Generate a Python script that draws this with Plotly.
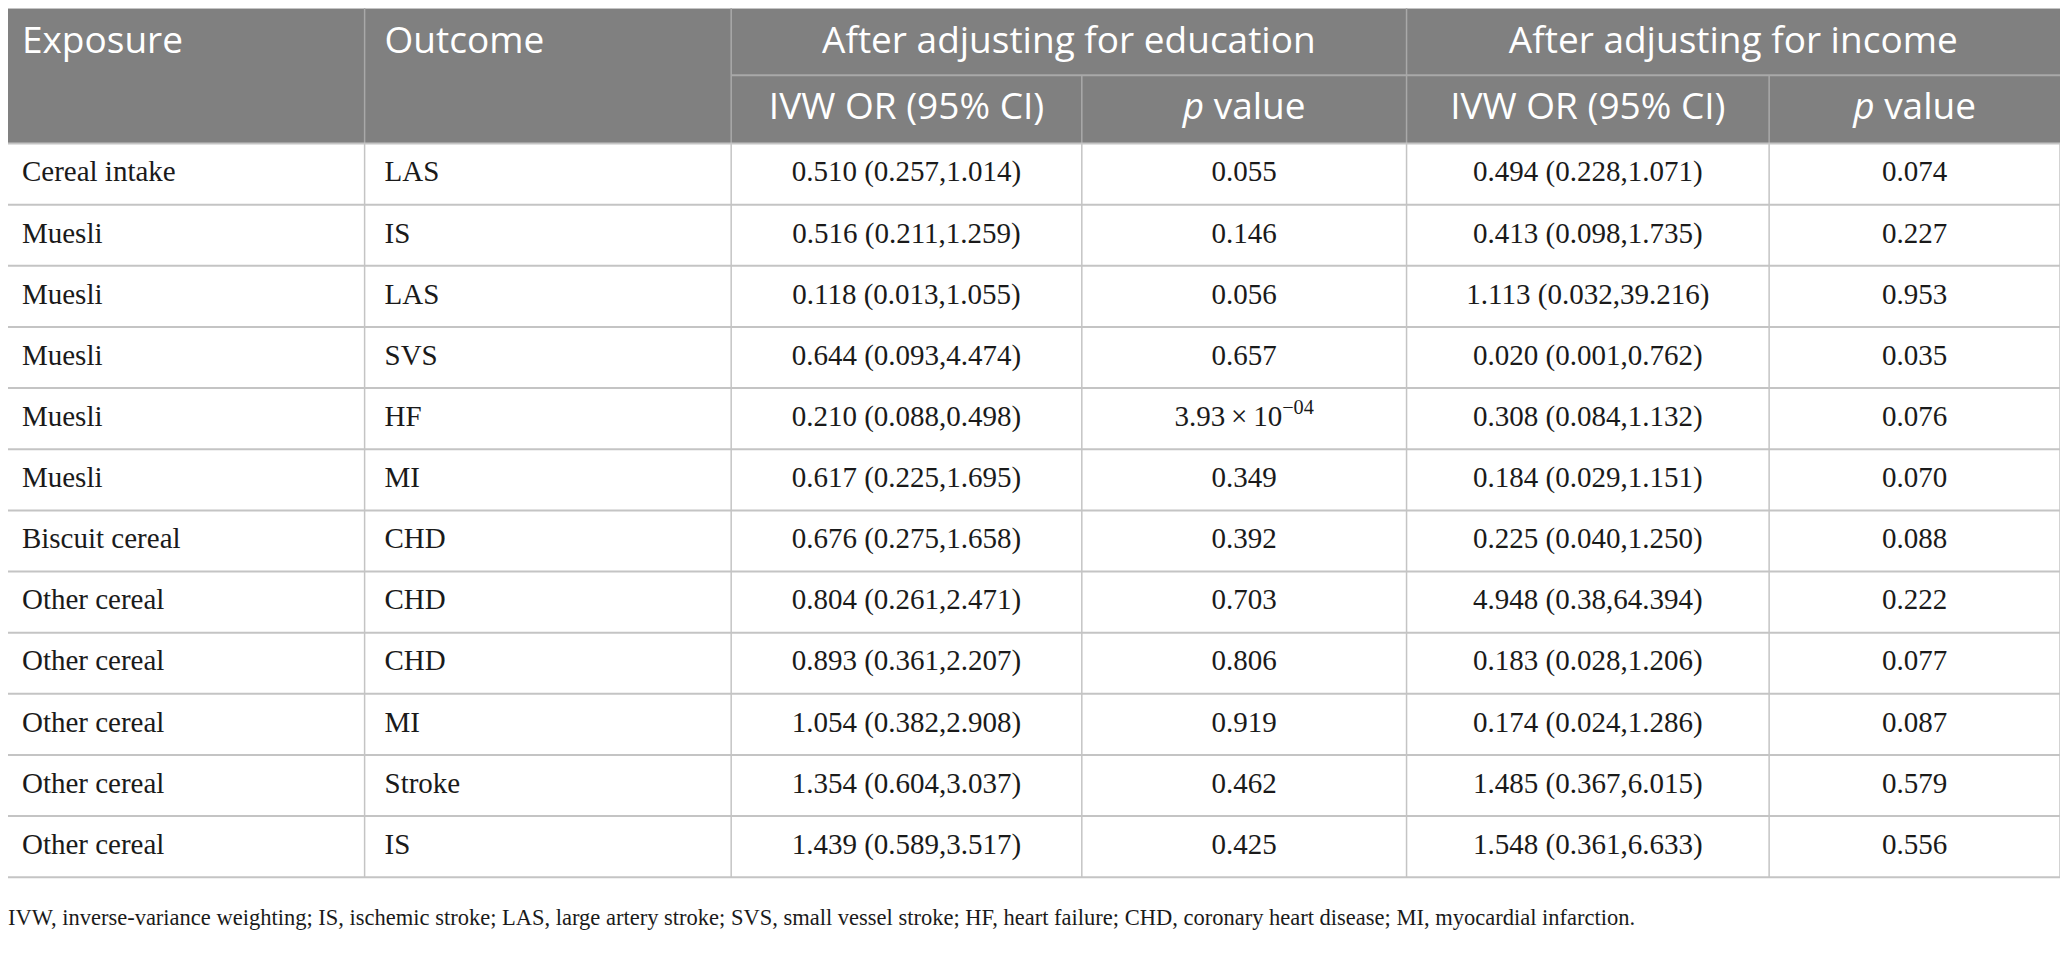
import plotly.graph_objects as go

# table content
exposure = ["Cereal intake", "Muesli", "Muesli", "Muesli", "Muesli", "Muesli",
            "Biscuit cereal", "Other cereal", "Other cereal", "Other cereal",
            "Other cereal", "Other cereal"]
outcome = ["LAS", "IS", "LAS", "SVS", "HF", "MI", "CHD", "CHD", "CHD", "MI",
           "Stroke", "IS"]
edu_or = ["0.510 (0.257,1.014)", "0.516 (0.211,1.259)", "0.118 (0.013,1.055)",
          "0.644 (0.093,4.474)", "0.210 (0.088,0.498)", "0.617 (0.225,1.695)",
          "0.676 (0.275,1.658)", "0.804 (0.261,2.471)", "0.893 (0.361,2.207)",
          "1.054 (0.382,2.908)", "1.354 (0.604,3.037)", "1.439 (0.589,3.517)"]
edu_p = ["0.055", "0.146", "0.056", "0.657",
         "3.93\u2009\u00d7\u200910<sup>\u221204</sup>", "0.349",
         "0.392", "0.703", "0.806", "0.919", "0.462", "0.425"]
inc_or = ["0.494 (0.228,1.071)", "0.413 (0.098,1.735)", "1.113 (0.032,39.216)",
          "0.020 (0.001,0.762)", "0.308 (0.084,1.132)", "0.184 (0.029,1.151)",
          "0.225 (0.040,1.250)", "4.948 (0.38,64.394)", "0.183 (0.028,1.206)",
          "0.174 (0.024,1.286)", "1.485 (0.367,6.015)", "1.548 (0.361,6.633)"]
inc_p = ["0.074", "0.227", "0.953", "0.035", "0.076", "0.070", "0.088",
         "0.222", "0.077", "0.087", "0.579", "0.556"]

group_headers = ["After adjusting for education", "After adjusting for income"]
sub_headers = ["IVW OR (95% CI)", "<i>p</i> value", "IVW OR (95% CI)", "<i>p</i> value"]
footnote = ("IVW, inverse-variance weighting; IS, ischemic stroke; LAS, large artery stroke; "
            "SVS, small vessel stroke; HF, heart failure; CHD, coronary heart disease; "
            "MI, myocardial infarction.")

# layout geometry (pixels of the reference image)
col_edges = [0, 364, 732, 1084, 1410, 1774, 2066]
top, mid, head_bot = 5, 72.5, 141
row_h = (877 - 141) / 12
n = len(exposure)
body_bot = head_bot + n * row_h
pad = 20

head_fill = "#808080"
grid = "#c4c4c4"
head_grid = "#a9a9a9"
serif = "Liberation Serif"
sans = "Open Sans"

fig = go.Figure()

shapes = [dict(type="rect", x0=col_edges[0], x1=col_edges[-1], y0=top, y1=head_bot,
               fillcolor=head_fill, line_width=0, layer="below")]
# header lines
shapes.append(dict(type="line", x0=0, x1=col_edges[-1], y0=top, y1=top,
                   line=dict(color=grid, width=2)))
shapes.append(dict(type="line", x0=col_edges[2], x1=col_edges[-1], y0=mid, y1=mid,
                   line=dict(color=head_grid, width=2)))
for i in (1, 2, 4):
    shapes.append(dict(type="line", x0=col_edges[i], x1=col_edges[i], y0=top, y1=head_bot,
                       line=dict(color=head_grid, width=1.5)))
for i in (3, 5):
    shapes.append(dict(type="line", x0=col_edges[i], x1=col_edges[i], y0=mid, y1=head_bot,
                       line=dict(color=head_grid, width=1.5)))
# body lines
for r in range(n + 1):
    y = head_bot + r * row_h
    shapes.append(dict(type="line", x0=0, x1=col_edges[-1], y0=y, y1=y,
                       line=dict(color=grid, width=2)))
for x in col_edges:
    shapes.append(dict(type="line", x0=x, x1=x, y0=head_bot, y1=body_bot,
                       line=dict(color=grid, width=1.5)))

row_y = [head_bot + row_h * (i + 0.5) for i in range(n)]
body_font = dict(family=serif, size=29, color="#1a1a1a")
head_font = dict(family=sans, size=37, color="white")

# body columns
fig.add_trace(go.Scatter(x=[col_edges[0] + pad] * n, y=row_y, text=exposure, mode="text",
                         textposition="middle right", textfont=body_font))
fig.add_trace(go.Scatter(x=[col_edges[1] + pad] * n, y=row_y, text=outcome, mode="text",
                         textposition="middle right", textfont=body_font))
for k, col in enumerate([edu_or, edu_p, inc_or, inc_p]):
    cx = (col_edges[k + 2] + col_edges[k + 3]) / 2
    fig.add_trace(go.Scatter(x=[cx] * n, y=row_y, text=col, mode="text",
                             textposition="middle center", textfont=body_font))

# header text
fig.add_trace(go.Scatter(x=[col_edges[0] + pad, col_edges[1] + pad], y=[41, 41],
                         text=["Exposure", "Outcome"], mode="text",
                         textposition="middle right", textfont=head_font))
fig.add_trace(go.Scatter(x=[(col_edges[2] + col_edges[4]) / 2, (col_edges[4] + col_edges[6]) / 2],
                         y=[41, 41], text=group_headers, mode="text",
                         textposition="middle center", textfont=head_font))
fig.add_trace(go.Scatter(x=[(col_edges[k] + col_edges[k + 1]) / 2 for k in range(2, 6)],
                         y=[107] * 4, text=sub_headers, mode="text",
                         textposition="middle center", textfont=head_font))

# footnote
fig.add_trace(go.Scatter(x=[6], y=[919], text=[footnote], mode="text",
                         textposition="middle right",
                         textfont=dict(family=serif, size=22.5, color="#1a1a1a")))

# the page body has an 8px margin, so the figure is a bit smaller than the window
fig.update_layout(
    width=2052, height=939,
    margin=dict(l=0, r=0, t=0, b=0),
    paper_bgcolor="white", plot_bgcolor="white",
    showlegend=False,
    shapes=shapes,
    xaxis=dict(range=[6, 2066], visible=False, fixedrange=True),
    yaxis=dict(range=[947, 5], visible=False, fixedrange=True),
)

fig.write_html("out.html", config={"displayModeBar": False})
